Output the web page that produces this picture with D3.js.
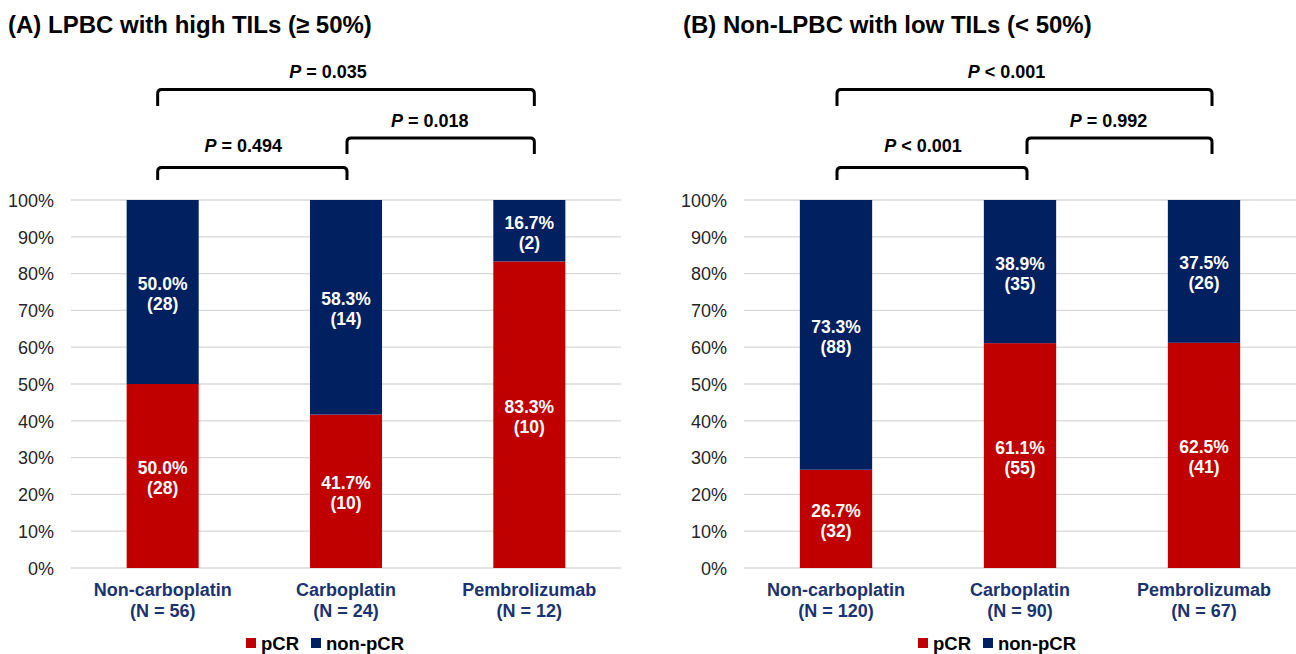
<!DOCTYPE html>
<html>
<head>
<meta charset="utf-8">
<script src="https://cdn.jsdelivr.net/npm/d3@7"></script>
<style>
  html, body { margin: 0; padding: 0; background: #fff; }
  svg { display: block; }
</style>
</head>
<body>
<svg id="chart" width="1296" height="654"></svg>
<script>
// ---------- data ----------
const categories = ["Non-carboplatin", "Carboplatin", "Pembrolizumab"];
const seriesNames = ["pCR", "non-pCR"];
const yTicks = [0, 10, 20, 30, 40, 50, 60, 70, 80, 90, 100];

// Panel A
const titleA = "(A) LPBC with high TILs (\u2265 50%)";
const nLabelsA = ["(N = 56)", "(N = 24)", "(N = 12)"];
const pcrA = [50.0, 41.7, 83.3];
const nonPcrA = [50.0, 58.3, 16.7];
const pcrPctA = ["50.0%", "41.7%", "83.3%"];
const pcrCountA = ["(28)", "(10)", "(10)"];
const nonPcrPctA = ["50.0%", "58.3%", "16.7%"];
const nonPcrCountA = ["(28)", "(14)", "(2)"];
const pFromA = [0, 1, 0];
const pToA = [2, 2, 1];
const pOpA = ["=", "=", "="];
const pValA = ["0.035", "0.018", "0.494"];

// Panel B
const titleB = "(B) Non-LPBC with low TILs (< 50%)";
const nLabelsB = ["(N = 120)", "(N = 90)", "(N = 67)"];
const pcrB = [26.7, 61.1, 61.2];
const nonPcrB = [73.3, 38.9, 38.8];
const pcrPctB = ["26.7%", "61.1%", "62.5%"];
const pcrCountB = ["(32)", "(55)", "(41)"];
const nonPcrPctB = ["73.3%", "38.9%", "37.5%"];
const nonPcrCountB = ["(88)", "(35)", "(26)"];
const pFromB = [0, 1, 0];
const pToB = [2, 2, 1];
const pOpB = ["<", "=", "<"];
const pValB = ["0.001", "0.992", "0.001"];

// ---------- style ----------
const RED = "#C00000", NAVY = "#002060", LABEL_NAVY = "#1B3370";
const BOLD = "'Liberation Sans', Arial, sans-serif";
const svg = d3.select("#chart");

function drawPanel(cfg) {
  const g = svg.append("g");
  const x = d3.scaleBand().domain(categories).range([cfg.x0, cfg.x1]).paddingInner(0.607).paddingOuter(0.3035);
  const y = d3.scaleLinear().domain([0, 100]).range([568, 200]);

  // title
  g.append("text").attr("x", cfg.titleX).attr("y", 33)
    .attr("font-family", BOLD).attr("font-weight", "bold").attr("font-size", 24)
    .attr("fill", "#000").text(cfg.title);

  // gridlines
  g.selectAll("line.grid").data(yTicks).enter().append("line")
    .attr("x1", cfg.x0).attr("x2", cfg.x1)
    .attr("y1", d => y(d)).attr("y2", d => y(d))
    .attr("stroke", "#D9D9D9").attr("stroke-width", 1.3);

  // y axis labels
  const yAxis = d3.axisLeft(y).tickValues(yTicks).tickFormat(d => d + "%").tickSize(0).tickPadding(0);
  const ya = g.append("g").attr("transform", `translate(${cfg.x0 - 17},0)`).call(yAxis);
  ya.select(".domain").remove();
  ya.selectAll("text").attr("font-family", "'Liberation Sans', Arial, sans-serif")
    .attr("font-size", 18).attr("fill", "#262626").attr("dy", "0.35em");

  // stacked bars
  const rows = categories.map((c, i) => ({ cat: c, pcr: cfg.pcr[i], non: cfg.non[i], i }));
  const stack = d3.stack().keys(["pcr", "non"])(rows);
  const colors = { pcr: RED, non: NAVY };
  stack.forEach(layer => {
    g.selectAll(null).data(layer).enter().append("rect")
      .attr("x", d => x(d.data.cat)).attr("width", x.bandwidth())
      .attr("y", d => y(d[1])).attr("height", d => y(d[0]) - y(d[1]))
      .attr("fill", colors[layer.key]);
    // labels
    const pctArr = layer.key === "pcr" ? cfg.pcrPct : cfg.nonPct;
    const cntArr = layer.key === "pcr" ? cfg.pcrCnt : cfg.nonCnt;
    const lbl = g.selectAll(null).data(layer).enter().append("text")
      .attr("text-anchor", "middle").attr("font-family", BOLD).attr("font-weight", "bold")
      .attr("font-size", 17.5).attr("fill", "#fff")
      .attr("transform", d => `translate(${x(d.data.cat) + x.bandwidth() / 2},${(y(d[0]) + y(d[1])) / 2})`);
    lbl.append("tspan").attr("x", 0).attr("y", -2).text(d => pctArr[d.data.i]);
    lbl.append("tspan").attr("x", 0).attr("y", 18).text(d => cntArr[d.data.i]);
  });

  // x labels
  const xl = g.selectAll(null).data(categories).enter().append("text")
    .attr("text-anchor", "middle").attr("font-family", BOLD).attr("font-weight", "bold")
    .attr("font-size", 18).attr("fill", LABEL_NAVY)
    .attr("transform", d => `translate(${x(d) + x.bandwidth() / 2},0)`);
  xl.append("tspan").attr("x", 0).attr("y", 596).text(d => d);
  xl.append("tspan").attr("x", 0).attr("y", 617).text((d, i) => cfg.nLabels[i]);

  // significance brackets
  const levelY = [89.5, 138, 167.5];
  const levelDrop = [16.5, 16, 12.5];
  const levelText = [78, 127, 152];
  const levelDx = [-18, -11, -9];
  const cx = i => x(categories[i]) + x.bandwidth() / 2 + cfg.anchorOff[i];
  cfg.pFrom.forEach((f, k) => {
    const t = cfg.pTo[k];
    const x1 = cx(f), x2 = cx(t), yy = levelY[k], yb = yy + levelDrop[k], r = 4;
    const path = `M${x1},${yb} L${x1},${yy + r} Q${x1},${yy} ${x1 + r},${yy} L${x2 - r},${yy} Q${x2},${yy} ${x2},${yy + r} L${x2},${yb}`;
    g.append("path").attr("d", path).attr("fill", "none").attr("stroke", "#000").attr("stroke-width", 3);
    const tx = g.append("text").attr("x", (x1 + x2) / 2 + levelDx[k]).attr("y", levelText[k])
      .attr("text-anchor", "middle").attr("font-family", BOLD).attr("font-weight", "bold")
      .attr("font-size", 18).attr("fill", "#000");
    tx.append("tspan").attr("font-style", "italic").text("P");
    tx.append("tspan").text(" " + cfg.pOp[k] + " " + cfg.pVal[k]);
  });

  // legend
  const lg = g.append("g").attr("transform", `translate(${cfg.legendX},0)`);
  const legendItems = [{ name: seriesNames[0], c: RED, off: 0 }, { name: seriesNames[1], c: NAVY, off: 65 }];
  legendItems.forEach(it => {
    lg.append("rect").attr("x", it.off).attr("y", 638).attr("width", 10).attr("height", 10).attr("fill", it.c);
    lg.append("text").attr("x", it.off + 15).attr("y", 650)
      .attr("font-family", BOLD).attr("font-weight", "bold").attr("font-size", 18.5)
      .attr("fill", "#000").text(it.name);
  });
}

drawPanel({
  x0: 71, x1: 621, titleX: 8, title: titleA, nLabels: nLabelsA,
  pcr: pcrA, non: nonPcrA, pcrPct: pcrPctA, pcrCnt: pcrCountA, nonPct: nonPcrPctA, nonCnt: nonPcrCountA,
  pFrom: pFromA, pTo: pToA, pOp: pOpA, pVal: pValA, anchorOff: [-5, 1, 5], legendX: 246
});
drawPanel({
  x0: 744, x1: 1296, titleX: 683, title: titleB, nLabels: nLabelsB,
  pcr: pcrB, non: nonPcrB, pcrPct: pcrPctB, pcrCnt: pcrCountB, nonPct: nonPcrPctB, nonCnt: nonPcrCountB,
  pFrom: pFromB, pTo: pToB, pOp: pOpB, pVal: pValB, anchorOff: [1, 7, 8], legendX: 918
});
</script>
</body>
</html>
